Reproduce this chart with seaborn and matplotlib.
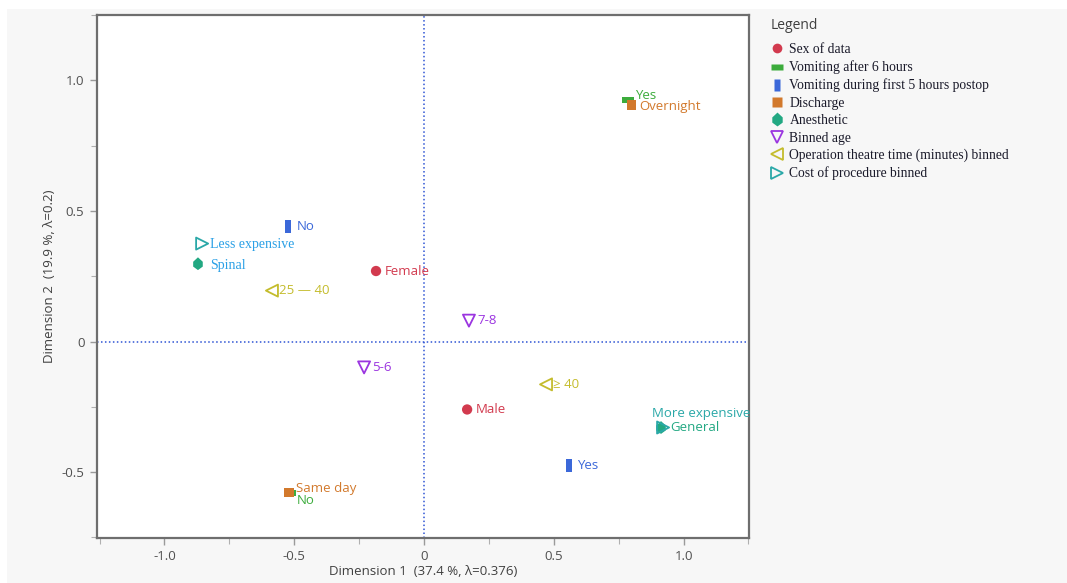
import matplotlib
matplotlib.use("Agg")
import matplotlib.pyplot as plt
from matplotlib.ticker import MultipleLocator, FixedLocator
from matplotlib.lines import Line2D
import seaborn as sns
import pandas as pd

# Correspondence analysis coordinates, one entry per category level
groups = ["Sex of data", "Sex of data",
          "Vomiting after 6 hours", "Vomiting after 6 hours",
          "Vomiting during first 5 hours postop", "Vomiting during first 5 hours postop",
          "Discharge", "Discharge",
          "Anesthetic", "Anesthetic",
          "Binned age", "Binned age",
          "Operation theatre time (minutes) binned", "Operation theatre time (minutes) binned",
          "Cost of procedure binned", "Cost of procedure binned"]
levels = ["Female", "Male",
          "Yes", "No",
          "No", "Yes",
          "Overnight", "Same day",
          "Spinal", "General",
          "7-8", "5-6",
          "25 \u2014 40", "\u2265 40",
          "Less expensive", "More expensive"]
dim1 = [-0.185, 0.166,
        0.786, -0.516,
        -0.524, 0.559,
        0.798, -0.520,
        -0.871, 0.913,
        0.173, -0.231,
        -0.586, 0.470,
        -0.855, 0.921]
dim2 = [0.270, -0.260,
        0.925, -0.580,
        0.440, -0.474,
        0.906, -0.577,
        0.298, -0.329,
        0.080, -0.099,
        0.195, -0.164,
        0.375, -0.329]

group_order = ["Sex of data", "Vomiting after 6 hours",
               "Vomiting during first 5 hours postop", "Discharge", "Anesthetic",
               "Binned age", "Operation theatre time (minutes) binned",
               "Cost of procedure binned"]

df = pd.DataFrame({"group": groups, "level": levels, "x": dim1, "y": dim2})

hbar = [(-1, -0.45), (1, -0.45), (1, 0.45), (-1, 0.45), (-1, -0.45)]
vbar = [(-0.45, -1), (0.45, -1), (0.45, 1), (-0.45, 1), (-0.45, -1)]
diamond = [(0, -1), (0.75, -0.45), (0.75, 0.3), (0, 1), (-0.75, 0.3), (-0.75, -0.45), (0, -1)]

style = {
    "Sex of data": dict(color="#d23a4e", marker="o", size=55, lsize=7, filled=True),
    "Vomiting after 6 hours": dict(color="#3cac3c", marker=hbar, size=80, lsize=9, filled=True),
    "Vomiting during first 5 hours postop": dict(color="#3b68d9", marker=vbar, size=80, lsize=9, filled=True),
    "Discharge": dict(color="#d2792c", marker="s", size=45, lsize=6.5, filled=True),
    "Anesthetic": dict(color="#22a882", marker=diamond, size=85, lsize=10, filled=True),
    "Binned age": dict(color="#9b35e0", marker="v", size=75, lsize=8, filled=False),
    "Operation theatre time (minutes) binned": dict(color="#c4bc2c", marker="<", size=75, lsize=8, filled=False),
    "Cost of procedure binned": dict(color="#2aa8a8", marker=">", size=75, lsize=8, filled=False),
}

sans = ["Open Sans", "DejaVu Sans"]
serif = ["Liberation Serif", "DejaVu Serif"]

sns.set_theme(style="white")
plt.rcParams["font.family"] = sans

fig = plt.figure(figsize=(10.67, 5.83), dpi=100)
fig.patch.set_facecolor("#f7f7f7")
# white strips along the top and left page edges
fig.add_artist(plt.Rectangle((0, 1 - 9 / 583), 1, 9 / 583, transform=fig.transFigure,
                             facecolor="white", edgecolor="none", zorder=0))
fig.add_artist(plt.Rectangle((0, 0), 7 / 1067, 1, transform=fig.transFigure,
                             facecolor="white", edgecolor="none", zorder=0))

ax = fig.add_axes([97 / 1067, 45 / 583, (749 - 97) / 1067, (538 - 15) / 583])
ax.set_facecolor("white")

ax.axvline(0, color="#2f55d4", lw=1.1, ls=(0, (1, 1.6)), zorder=1)
ax.axhline(0, color="#2f55d4", lw=1.1, ls=(0, (1, 1.6)), zorder=1)

for g in group_order:
    sub = df[df["group"] == g]
    st = style[g]
    if st["filled"]:
        sns.scatterplot(data=sub, x="x", y="y", ax=ax, marker=st["marker"], s=st["size"],
                        color=st["color"], edgecolor="none", linewidth=0, zorder=3)
    else:
        sns.scatterplot(data=sub, x="x", y="y", ax=ax, marker=st["marker"], s=st["size"],
                        facecolor="none", edgecolor=st["color"], linewidth=1.3, zorder=3)

# label placement (offset in points) and font for each level
label_opts = {
    "Female": dict(off=(6, 0)),
    "Male": dict(off=(6, 0)),
    "Yes|Vomiting after 6 hours": dict(off=(5, 3)),
    "No|Vomiting after 6 hours": dict(off=(5, -5.5)),
    "No|Vomiting during first 5 hours postop": dict(off=(6, 0)),
    "Yes|Vomiting during first 5 hours postop": dict(off=(6, 0)),
    "Overnight": dict(off=(6, -1.5)),
    "Same day": dict(off=(5, 3)),
    "Spinal": dict(off=(9, -1), font=serif, color="#2aa0e6"),
    "General": dict(off=(7, 0)),
    "7-8": dict(off=(6, 0)),
    "5-6": dict(off=(6, 0)),
    "25 \u2014 40": dict(off=(5, 0)),
    "\u2265 40": dict(off=(5, 0)),
    "Less expensive": dict(off=(6, -1), font=serif, color="#2aa0e6"),
    "More expensive": dict(off=(-8, 10)),
}

for _, r in df.iterrows():
    key = f"{r['level']}|{r['group']}"
    opts = label_opts.get(key, label_opts.get(r["level"], {}))
    color = opts.get("color", style[r["group"]]["color"])
    ax.annotate(r["level"], (r["x"], r["y"]), xytext=opts.get("off", (6, 0)),
                textcoords="offset points", ha="left", va="center",
                fontsize=10 if "font" in opts else 9.5,
                family=opts.get("font", sans), color=color, zorder=4)

ax.set_xlim(-1.26, 1.252)
ax.set_ylim(-0.752, 1.25)
ax.xaxis.set_major_locator(FixedLocator([-1.0, -0.5, 0, 0.5, 1.0]))
ax.yaxis.set_major_locator(FixedLocator([-0.5, 0, 0.5, 1.0]))
ax.xaxis.set_minor_locator(MultipleLocator(0.25))
ax.yaxis.set_minor_locator(MultipleLocator(0.25))
ax.set_xticklabels(["-1.0", "-0.5", "0", "0.5", "1.0"])
ax.set_yticklabels(["-0.5", "0", "0.5", "1.0"])
ax.tick_params(axis="both", which="major", direction="out", length=5, width=1,
               color="#9a9a9a", labelsize=9.5, labelcolor="#505050", pad=4,
               bottom=True, left=True)
ax.tick_params(axis="both", which="minor", direction="out", length=4, width=0.8,
               color="#b0b0b0", bottom=True, left=True)
for sp in ax.spines.values():
    sp.set_color("#6e6e6e")
    sp.set_linewidth(1.6)

ax.set_xlabel("Dimension 1  (37.4 %, \u03bb=0.376)", fontsize=9.5, color="#404040", labelpad=1)
ax.set_ylabel("Dimension 2  (19.9 %, \u03bb=0.2)", fontsize=9.5, color="#404040", labelpad=4)

handles = []
for g in group_order:
    st = style[g]
    if st["filled"]:
        h = Line2D([], [], ls="none", marker=st["marker"], markersize=st["lsize"],
                   markerfacecolor=st["color"], markeredgecolor="none")
    else:
        h = Line2D([], [], ls="none", marker=st["marker"], markersize=st["lsize"],
                   markerfacecolor="none", markeredgecolor=st["color"], markeredgewidth=1.3)
    handles.append(h)

leg = fig.legend(handles, group_order, loc="upper left",
                 bbox_to_anchor=(765 / 1067, 1 - 13 / 583),
                 frameon=False, title="Legend", alignment="left",
                 prop={"family": serif, "size": 9.8}, handlelength=0.9,
                 handletextpad=0.5, labelspacing=0.32, borderaxespad=0)
leg.get_title().set_fontfamily(sans)
leg.get_title().set_fontsize(10)
leg.get_title().set_color("#404040")
leg._legend_box.sep = 7
for t in leg.get_texts():
    t.set_color("#1a1a2a")

fig.savefig("out.png", dpi=100, facecolor=fig.get_facecolor())
